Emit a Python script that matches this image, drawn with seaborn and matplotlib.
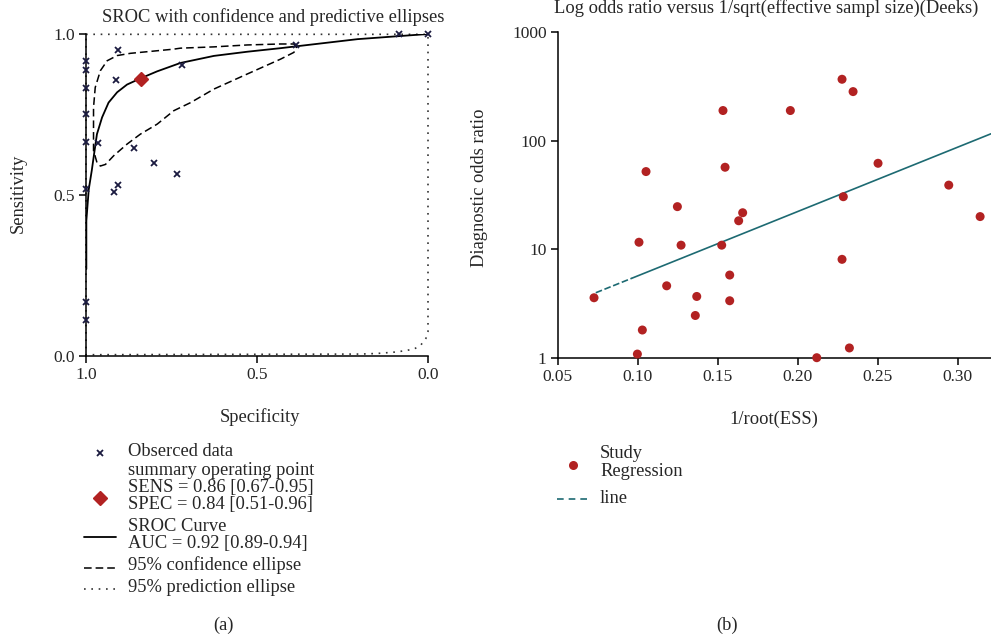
import matplotlib
matplotlib.use("Agg")
import matplotlib.pyplot as plt
from matplotlib.lines import Line2D
import seaborn as sns
import pandas as pd

# ----- Panel (a): SROC ------------------------------------------------------
obs_spec = [1.0, 1.0, 1.0, 1.0, 1.0, 1.0, 1.0, 1.0, 0.906, 0.911, 0.720,
            0.386, 0.085, 0.0, 0.966, 0.860, 0.801, 0.734, 0.917, 0.905]
obs_sens = [0.916, 0.888, 0.831, 0.752, 0.665, 0.520, 0.167, 0.113, 0.950,
            0.857, 0.904, 0.967, 1.0, 1.0, 0.660, 0.645, 0.600, 0.564,
            0.509, 0.532]

summary_spec = [0.84]
summary_sens = [0.86]

sroc_spec = [0.999, 0.999, 0.992, 0.983, 0.976, 0.968, 0.953, 0.934, 0.909,
             0.880, 0.841, 0.792, 0.724, 0.626, 0.528, 0.431, 0.343, 0.206,
             0.0]
sroc_sens = [0.27, 0.42, 0.517, 0.577, 0.630, 0.689, 0.741, 0.787, 0.819,
             0.843, 0.862, 0.884, 0.910, 0.932, 0.945, 0.956, 0.967, 0.984,
             1.0]

conf_spec = [0.384, 0.392, 0.431, 0.528, 0.626, 0.724, 0.743, 0.821, 0.870,
             0.909, 0.938, 0.958, 0.973, 0.978, 0.978, 0.968, 0.958, 0.943,
             0.919, 0.880, 0.841, 0.792, 0.743, 0.694, 0.626, 0.528, 0.431,
             0.392, 0.384]
conf_sens = [0.959, 0.969, 0.969, 0.966, 0.960, 0.956, 0.953, 0.945, 0.940,
             0.933, 0.917, 0.886, 0.834, 0.772, 0.638, 0.601, 0.590, 0.595,
             0.622, 0.658, 0.689, 0.720, 0.762, 0.787, 0.829, 0.876, 0.922,
             0.943, 0.959]

pred_spec = [1.0, 0.0, 0.0, 0.006, 0.021, 0.040, 0.069, 0.099, 0.147, 0.196,
             1.0, 1.0]
pred_sens = [0.999, 0.999, 0.076, 0.055, 0.034, 0.022, 0.016, 0.012, 0.008,
             0.006, 0.004, 0.999]

# ----- Panel (b): Deeks ----------------------------------------------------
ess_x = [0.0727, 0.0998, 0.1008, 0.1029, 0.1052, 0.1181, 0.1248, 0.1271,
         0.1360, 0.1369, 0.1525, 0.1533, 0.1546, 0.1575, 0.1575, 0.1631,
         0.1656, 0.1954, 0.2119, 0.2277, 0.2277, 0.2285, 0.2323, 0.2346,
         0.2502, 0.2944, 0.3140]
dor = [3.57, 1.08, 11.6, 1.80, 52, 4.6, 24.7, 10.9, 2.45, 3.67, 10.9, 190,
       57, 5.78, 3.35, 18.3, 21.7, 190, 1.0, 369, 8.07, 30.5, 1.23, 284, 62,
       39, 20]

reg_dash_x = [0.0738, 0.0963]
reg_dash_y = [3.97, 5.4]
reg_solid_x = [0.0963, 0.3208]
reg_solid_y = [5.4, 116]

RED = "#b22222"
TEAL = "#1d6a72"
NAVY = "#1b1b40"
W, H = 991, 643


def px(x, y):
    return x / W, 1 - y / H


sns.set_style("ticks")
plt.rcParams["font.family"] = ["Liberation Serif", "DejaVu Serif"]
plt.rcParams["axes.edgecolor"] = "black"
FS = 13.3     # labels, titles, legends
TFS = 12.5    # tick labels

fig = plt.figure(figsize=(W / 100, H / 100), dpi=100)

# ----- (a) ------------------------------------------------------------------
ax1 = fig.add_axes([86 / W, 1 - 356 / H, 342 / W, 322 / H])
df_pred = pd.DataFrame({"spec": pred_spec, "sens": pred_sens})
df_conf = pd.DataFrame({"spec": conf_spec, "sens": conf_sens})
df_sroc = pd.DataFrame({"spec": sroc_spec, "sens": sroc_sens})

sns.lineplot(data=df_pred, x="spec", y="sens", sort=False, estimator=None,
             color="#333333", lw=1.2, linestyle=(0, (1, 3.4)), ax=ax1,
             clip_on=False)
sns.lineplot(data=df_conf, x="spec", y="sens", sort=False, estimator=None,
             color="black", lw=1.1, linestyle=(0, (5, 2.6)), ax=ax1)
sns.lineplot(data=df_sroc, x="spec", y="sens", sort=False, estimator=None,
             color="black", lw=1.3, ax=ax1, solid_joinstyle="round")
ax1.plot(obs_spec, obs_sens, linestyle="none", marker="x", ms=3.8, mew=1.3,
         color=NAVY, clip_on=False, zorder=5)
ax1.plot(summary_spec, summary_sens, linestyle="none", marker="D", ms=7,
         color=RED, zorder=6)

ax1.set_xlim(1, 0)
ax1.set_ylim(0, 1)
ax1.set_xticks([1, 0.5, 0])
ax1.set_xticklabels(["1.0", "0.5", "0.0"])
ax1.set_yticks([0, 0.5, 1])
ax1.set_yticklabels(["0.0", "0.5", "1.0"])
ax1.set_xlabel("")
ax1.set_ylabel("")
sns.despine(ax=ax1)

# ----- (b) ------------------------------------------------------------------
ax2 = fig.add_axes([557.7 / W, 1 - 357.7 / H, (W - 557.7) / W, 325.4 / H])
sns.scatterplot(x=ess_x, y=dor, color=RED, s=42, edgecolor="none", ax=ax2,
                clip_on=False, zorder=5)
sns.lineplot(x=reg_dash_x, y=reg_dash_y, color=TEAL, lw=1.2,
             linestyle=(0, (4, 1.6)), ax=ax2)
sns.lineplot(x=reg_solid_x, y=reg_solid_y, color=TEAL, lw=1.2, ax=ax2)
ax2.set_yscale("log")
ax2.set_xlim(0.05, 0.3208)
ax2.set_ylim(1, 1000)
ax2.set_xticks([0.05, 0.10, 0.15, 0.20, 0.25, 0.30])
ax2.set_xticklabels(["0.05", "0.10", "0.15", "0.20", "0.25", "0.30"])
ax2.set_yticks([1, 10, 100, 1000])
ax2.set_yticklabels(["1", "10", "100", "1000"])
ax2.minorticks_off()
sns.despine(ax=ax2)

for ax in (ax1, ax2):
    ax.tick_params(length=5, width=1.1, labelsize=TFS, color="black", pad=3)
    for s in ("left", "bottom"):
        ax.spines[s].set_linewidth(1.1)

# ----- Texts ----------------------------------------------------------------
fig.text(*px(273, 17), "SROC with confidence and predictive ellipses",
         ha="center", va="center", fontsize=FS)
fig.text(*px(766, 8), "Log odds ratio versus 1/sqrt(effective sampl size)(Deeks)",
         ha="center", va="center", fontsize=FS)
fig.text(*px(18, 193), "Sensitivity", rotation=90, ha="center", va="center",
         fontsize=FS)
fig.text(*px(260, 417), "Specificity", ha="center", va="center", fontsize=FS)
fig.text(*px(479, 188), "Diagnostic odds ratio", rotation=90, ha="center",
         va="center", fontsize=FS)
fig.text(*px(774, 419), "1/root(ESS)", ha="center", va="center", fontsize=FS)
fig.text(*px(224, 625), "(a)", ha="center", va="center", fontsize=FS)
fig.text(*px(727, 625), "(b)", ha="center", va="center", fontsize=FS)

# ----- Legend (a) -----------------------------------------------------------
tx = 128
legend_a = [(451.7, "Obserced data"), (470.7, "summary operating point"),
            (487.3, "SENS = 0.86 [0.67-0.95]"), (504, "SPEC = 0.84 [0.51-0.96]"),
            (526.7, "SROC Curve"), (543.3, "AUC = 0.92 [0.89-0.94]"),
            (565, "95% confidence ellipse"), (587.3, "95% prediction ellipse")]
for yy, t in legend_a:
    fig.text(*px(tx, yy), t, ha="left", va="center", fontsize=FS)

fig.add_artist(Line2D(*zip(px(100, 453.3)), marker="x", ms=3.8, mew=1.3,
                      color=NAVY, transform=fig.transFigure))
fig.add_artist(Line2D(*zip(px(100, 497.7)), marker="D", ms=7, color=RED,
                      transform=fig.transFigure))
fig.add_artist(Line2D(*zip(px(84, 536.7), px(116, 536.7)), color="black",
                      lw=1.3, transform=fig.transFigure))
fig.add_artist(Line2D(*zip(px(84, 568.3), px(116, 568.3)), color="black",
                      lw=1.1, linestyle=(0, (5, 2.6)),
                      transform=fig.transFigure))
fig.add_artist(Line2D(*zip(px(84, 589.3), px(116, 589.3)), color="#333333",
                      lw=1.2, linestyle=(0, (1, 3.4)),
                      transform=fig.transFigure))

# ----- Legend (b) -----------------------------------------------------------
fig.text(*px(600, 454), "Study", ha="left", va="center", fontsize=FS)
fig.text(*px(600, 471), "Regression", ha="left", va="center", fontsize=FS)
fig.text(*px(600, 498.3), "line", ha="left", va="center", fontsize=FS)
fig.add_artist(Line2D(*zip(px(572.7, 465)), marker="o", ms=6.5, color=RED,
                      mec="none", transform=fig.transFigure))
fig.add_artist(Line2D(*zip(px(557, 499), px(589, 499)), color=TEAL, lw=1.2,
                      linestyle=(0, (4, 3)), transform=fig.transFigure))

fig.savefig("out.png", dpi=100)
plt.close(fig)
